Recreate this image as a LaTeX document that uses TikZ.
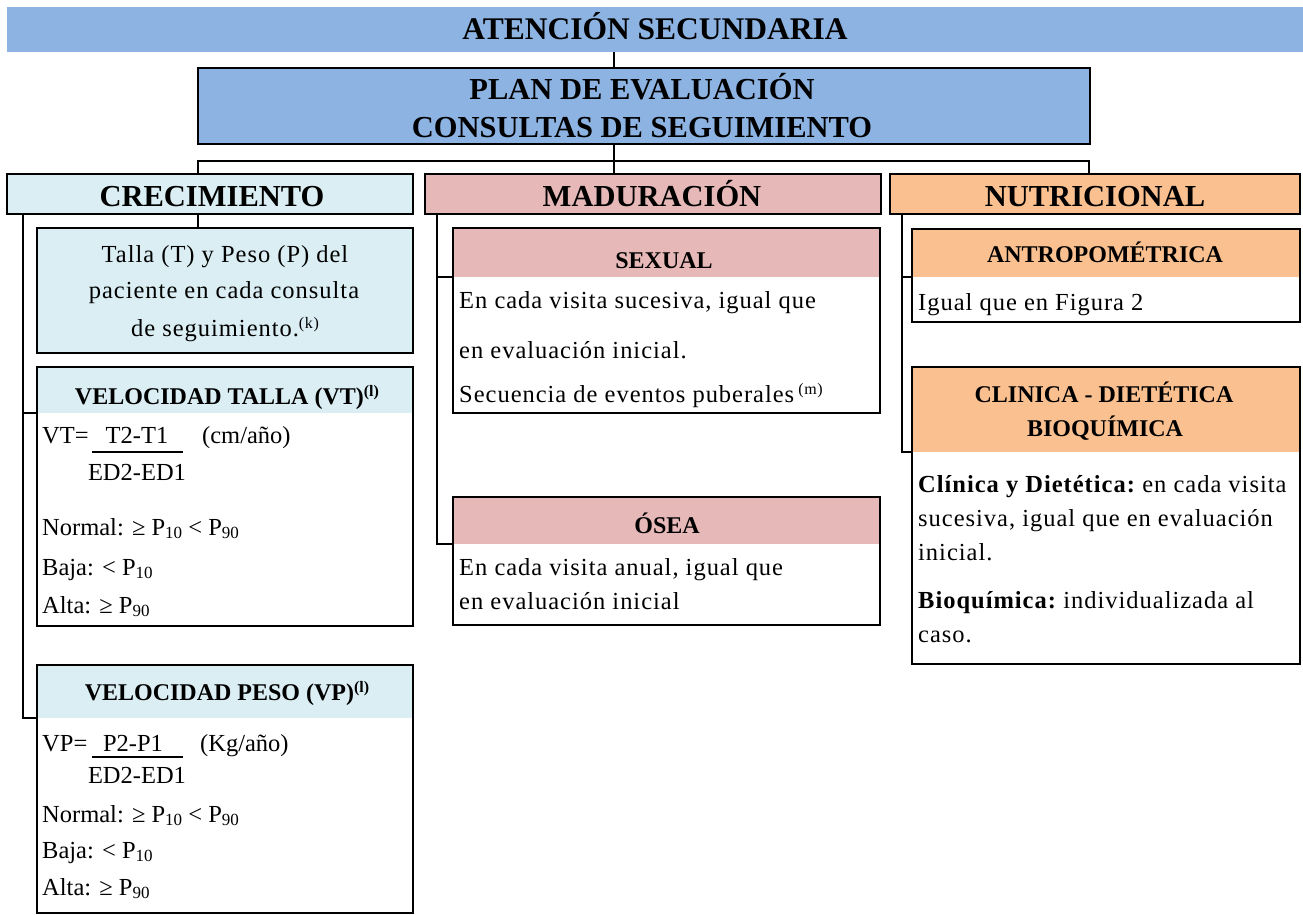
\documentclass[tikz,border=0pt]{standalone}
\usepackage{fontspec}
\setmainfont{Liberation Serif}
\newfontfamily\spc[LetterSpace=4]{Liberation Serif}
\definecolor{hblue}{HTML}{8DB3E2}
\definecolor{lblue}{HTML}{DAEEF3}
\definecolor{lpink}{HTML}{E6B9B8}
\definecolor{lorange}{HTML}{FAC090}
\newcommand{\psub}[1]{P\raisebox{-0.3ex}{\fontsize{17}{17}\selectfont #1}}
\newcommand{\supx}[1]{\raisebox{0.7ex}{\fontsize{16}{16}\selectfont #1}}
\begin{document}
\begin{tikzpicture}[x=1pt,y=-1pt,
  box/.style={draw=black,line width=2.5pt,outer sep=0pt,inner sep=0pt,anchor=north west},
  fillbox/.style={draw=none,outer sep=0pt,inner sep=0pt,anchor=north west},
  conn/.style={line width=2.5pt},
  bighead/.style={font=\fontsize{30.5}{30.5}\selectfont\bfseries,inner sep=0pt,anchor=base},
  subhead/.style={font=\fontsize{24}{24}\selectfont\bfseries,inner sep=0pt,anchor=base},
  body/.style={font=\fontsize{24.5}{24.5}\selectfont\spc,inner sep=0pt,anchor=base west},
  cbody/.style={font=\fontsize{24.5}{24.5}\selectfont\spc,inner sep=0pt,anchor=base},
  vbody/.style={font=\fontsize{24.5}{24.5}\selectfont,inner sep=0pt,anchor=base west},
  vcbody/.style={font=\fontsize{24.5}{24.5}\selectfont,inner sep=0pt,anchor=base},
]
\useasboundingbox (0,0) rectangle (1303,915);

% ---- top
\node[fillbox,fill=hblue,minimum width=1296,minimum height=45] (title) at (7,7) {};
\node[bighead,font=\fontsize{31.5}{31.5}\selectfont\bfseries] (titletext) at (655,40) {ATENCIÓN SECUNDARIA};
\node[box,fill=hblue,minimum width=892,minimum height=76] (plan) at (198,68) {};
\node[bighead] (plan1) at (642,100) {PLAN DE EVALUACIÓN};
\node[bighead] (plan2) at (642,137) {CONSULTAS DE SEGUIMIENTO};

% ---- category headers
\node[box,fill=lblue,minimum width=406,minimum height=40] (crec) at (7,174) {};
\node[bighead] (crect) at (212,206) {CRECIMIENTO};
\node[box,fill=lpink,minimum width=456,minimum height=40] (madu) at (425,174) {};
\node[bighead] (madut) at (652,206) {MADURACIÓN};
\node[box,fill=lorange,minimum width=410,minimum height=40] (nutri) at (890,174) {};
\node[bighead] (nutrit) at (1095,206) {NUTRICIONAL};

\coordinate (jL) at (198,161);
\coordinate (jM) at (614,161);
\coordinate (jR) at (1089,161);
\draw[conn] (title.south -| jM) -- (plan.north -| jM);
\draw[conn] (plan.south -| jM) -- (madu.north -| jM);
\draw[conn] (crec.north -| jL) |- (jR) -- (nutri.north -| jR);

% ---- CRECIMIENTO column
\node[box,fill=lblue,minimum width=376,minimum height=125] (talla) at (37,228) {};
\node[cbody] (talla1) at (225,262) {Talla (T) y Peso (P) del};
\node[cbody] (talla2) at (224,298) {paciente en cada consulta};
\node[cbody] (talla3) at (225,336) {de seguimiento.\supx{(k)}};
\draw[conn] (crec.south -| jL) -- (talla.north -| jL);

\node[fillbox,fill=lblue,minimum width=376,minimum height=46] (vthead) at (37,367) {};
\node[box,minimum width=376,minimum height=259] (vt) at (37,367) {};
\node[subhead] (vtt) at (227,404) {VELOCIDAD TALLA (VT)\supx{(l)}};
\node[vbody] (vteq) at (42,443) {VT=};
\node[vcbody] (vtnum) at (137,443) {T2-T1};
\node[vbody] (vtunit) at (202,443) {(cm/año)};
\draw[conn] (92,452) -- (183,452);
\node[vcbody] (vtden) at (137,480) {ED2-ED1};
\node[vbody] (vtn) at (42,535) {Normal: ≥ \psub{10} < \psub{90}};
\node[vbody] (vtb) at (42,575) {Baja: < \psub{10}};
\node[vbody] (vta) at (42,613) {Alta: ≥ \psub{90}};

\node[fillbox,fill=lblue,minimum width=376,minimum height=53] (vphead) at (37,665) {};
\node[box,minimum width=376,minimum height=248] (vp) at (37,665) {};
\node[subhead] (vpt) at (227,700) {VELOCIDAD PESO (VP)\supx{(l)}};
\node[vbody] (vpeq) at (42,751) {VP=};
\node[vcbody] (vpnum) at (133,751) {P2-P1};
\node[vbody] (vpunit) at (200,751) {(Kg/año)};
\draw[conn] (92,757) -- (183,757);
\node[vcbody] (vpden) at (137,783) {ED2-ED1};
\node[vbody] (vpn) at (42,822) {Normal: ≥ \psub{10} < \psub{90}};
\node[vbody] (vpb) at (42,858) {Baja: < \psub{10}};
\node[vbody] (vpa) at (42,895) {Alta: ≥ \psub{90}};

\coordinate (sL) at (23,0);
\draw[conn] (crec.south -| sL) |- (vphead.south west);
\draw[conn] (sL |- vthead.south west) -- (vthead.south west);

% ---- MADURACION column
\node[fillbox,fill=lpink,minimum width=427,minimum height=49] (sexh) at (453,228) {};
\node[box,minimum width=427,minimum height=185] (sex) at (453,228) {};
\node[subhead] (sext) at (664,268) {SEXUAL};
\node[body] (sex1) at (459,308) {En cada visita sucesiva, igual que};
\node[body] (sex2) at (459,358) {en evaluación inicial.};
\node[body] (sex3) at (459,402) {Secuencia de eventos puberales\,\supx{(m)}};

\node[fillbox,fill=lpink,minimum width=427,minimum height=47] (oseh) at (453,497) {};
\node[box,minimum width=427,minimum height=128] (ose) at (453,497) {};
\node[subhead] (oset) at (667,533) {ÓSEA};
\node[body] (ose1) at (459,575) {En cada visita anual, igual que};
\node[body] (ose2) at (459,609) {en evaluación inicial};

\coordinate (sM) at (437,0);
\draw[conn] (madu.south -| sM) |- (oseh.south west);
\draw[conn] (sM |- sexh.south west) -- (sexh.south west);

% ---- NUTRICIONAL column
\node[fillbox,fill=lorange,minimum width=388,minimum height=48] (anth) at (912,229) {};
\node[box,minimum width=388,minimum height=93] (ant) at (912,229) {};
\node[subhead] (antt) at (1105,262) {ANTROPOMÉTRICA};
\node[body] (ant1) at (918,310) {Igual que en Figura 2};

\node[fillbox,fill=lorange,minimum width=388,minimum height=85] (clih) at (912,367) {};
\node[box,minimum width=388,minimum height=297] (cli) at (912,367) {};
\node[subhead] (clit1) at (1104,402) {CLINICA - DIETÉTICA};
\node[subhead] (clit2) at (1105,436) {BIOQUÍMICA};
\node[body] (cli1) at (918,492) {\textbf{Clínica y Dietética:}\hspace{-3pt} en cada visita};
\node[body] (cli2) at (918,526) {sucesiva, igual que en evaluación};
\node[body] (cli3) at (918,560) {inicial.};
\node[body] (cli4) at (918,608) {\textbf{Bioquímica:}\hspace{-3pt} individualizada al};
\node[body] (cli5) at (918,642) {caso.};

\coordinate (sN) at (902,0);
\draw[conn] (nutri.south -| sN) |- (clih.south west);
\draw[conn] (sN |- anth.south west) -- (anth.south west);
\end{tikzpicture}
\end{document}
